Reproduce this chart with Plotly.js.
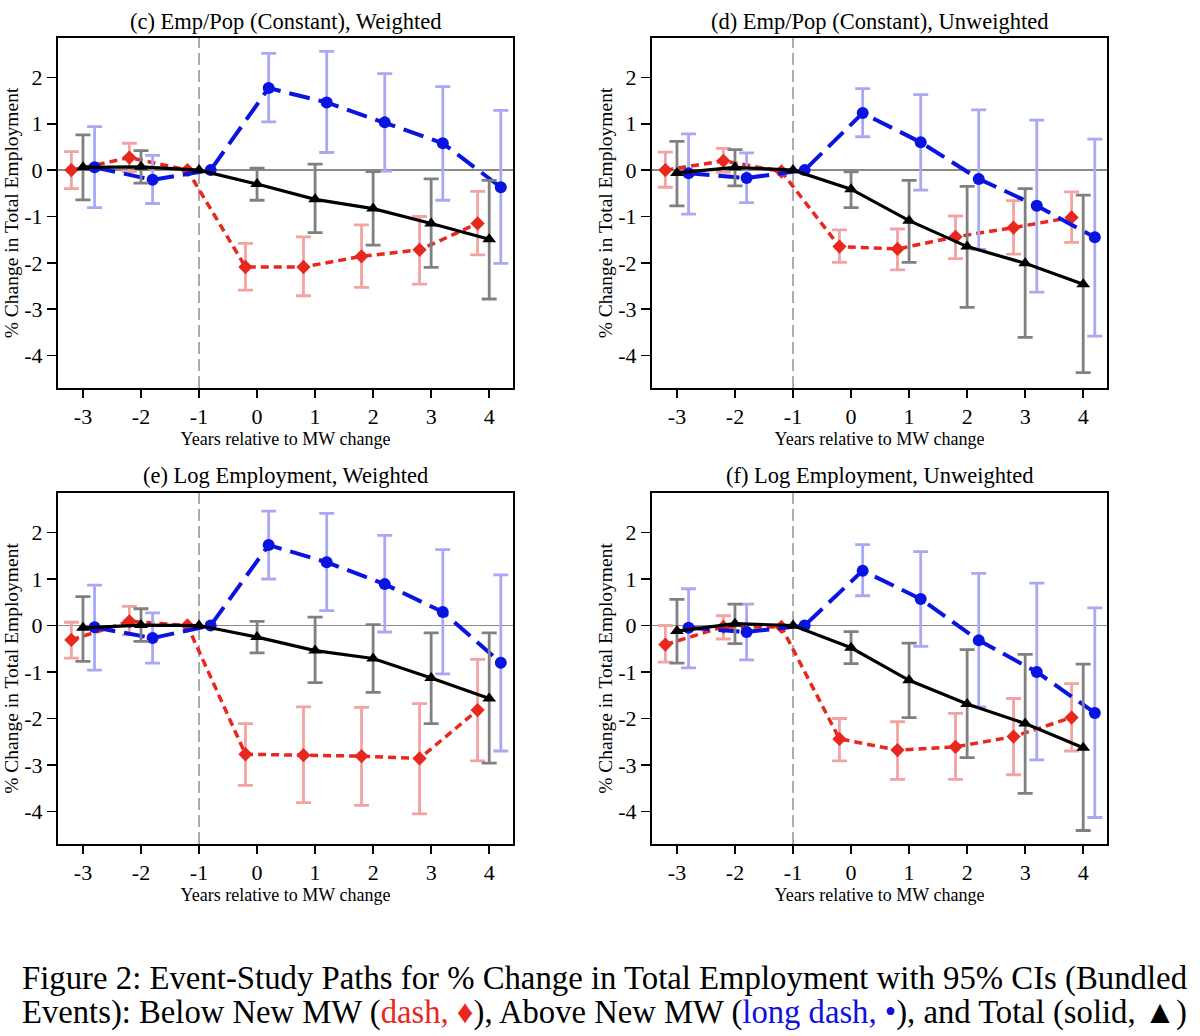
<!DOCTYPE html>
<html>
<head>
<meta charset="utf-8">
<script src="https://cdn.plot.ly/plotly-3.0.1.min.js"></script>
<style>
body { margin: 0; background: #fff; }
#chart { position: absolute; left: 0; top: 0; width: 1200px; height: 1036px; }
.caption-line {
    position: absolute; left: 22px; height: 34px; line-height: 34px;
    font-family: "Liberation Serif", serif; font-size: 33px; color: #000;
    white-space: nowrap; transform-origin: 0 50%;
}
</style>
</head>
<body>
<div id="chart"></div>
<div class="caption-line" id="cap1" style="top: 961px">Figure 2: Event-Study Paths for % Change in Total Employment with 95% CIs (Bundled</div>
<div class="caption-line" id="cap2" style="top: 995px">Events): Below New MW (<span style="color:#e8281f">dash, &#9830;</span>), Above New MW (<span style="color:#1010e0">long dash, &#8226;</span>), and Total (solid, &#9650;)</div>
<script>
var years = [-3, -2, -1, 0, 1, 2, 3, 4]
var x_tick_labels = ['-3', '-2', '-1', '0', '1', '2', '3', '4']
var y_ticks = [-4, -3, -2, -1, 0, 1, 2]
var y_tick_labels = ['-4', '-3', '-2', '-1', '0', '1', '2']

var titles = [
    '(c) Emp/Pop (Constant), Weighted',
    '(d) Emp/Pop (Constant), Unweighted',
    '(e) Log Employment, Weighted',
    '(f) Log Employment, Unweighted',
]

// (c)
var c_below    = [0, 0.27, 0, -2.09, -2.09, -1.86, -1.72, -1.15]
var c_below_hi = [0.40, 0.58, null, -1.58, -1.44, -1.18, -1.00, -0.46]
var c_below_lo = [-0.40, -0.03, null, -2.59, -2.71, -2.53, -2.46, -1.83]
var c_above    = [0.06, -0.21, 0, 1.77, 1.46, 1.03, 0.58, -0.37]
var c_above_hi = [0.94, 0.32, null, 2.52, 2.56, 2.08, 1.80, 1.29]
var c_above_lo = [-0.81, -0.72, null, 1.04, 0.38, -0.02, -0.65, -2.01]
var c_total    = [0.06, 0.07, 0, -0.30, -0.63, -0.83, -1.15, -1.49]
var c_total_hi = [0.76, 0.42, null, 0.04, 0.13, -0.03, -0.19, -0.22]
var c_total_lo = [-0.64, -0.28, null, -0.65, -1.35, -1.62, -2.10, -2.78]

// (d)
var d_below    = [0, 0.20, -0.03, -1.65, -1.70, -1.44, -1.24, -1.02]
var d_below_hi = [0.39, 0.47, null, -1.29, -1.27, -0.99, -0.66, -0.47]
var d_below_lo = [-0.37, -0.05, null, -1.99, -2.15, -1.91, -1.81, -1.56]
var d_above    = [-0.07, -0.17, 0, 1.23, 0.60, -0.19, -0.77, -1.45]
var d_above_hi = [0.78, 0.37, null, 1.76, 1.63, 1.30, 1.08, 0.67]
var d_above_lo = [-0.95, -0.70, null, 0.72, -0.43, -1.71, -2.63, -3.58]
var d_total    = [-0.06, 0.06, 0, -0.41, -1.09, -1.65, -2.01, -2.46]
var d_total_hi = [0.62, 0.44, null, -0.04, -0.22, -0.35, -0.40, -0.54]
var d_total_lo = [-0.77, -0.34, null, -0.81, -1.99, -2.96, -3.61, -4.37]

// (e)
var e_below    = [-0.31, 0.09, 0, -2.77, -2.79, -2.81, -2.86, -1.82]
var e_below_hi = [0.07, 0.41, null, -2.11, -1.75, -1.76, -1.68, -0.73]
var e_below_lo = [-0.70, -0.20, null, -3.44, -3.81, -3.87, -4.05, -2.91]
var e_above    = [-0.04, -0.27, 0, 1.73, 1.36, 0.89, 0.29, -0.80]
var e_above_hi = [0.87, 0.27, null, 2.46, 2.41, 1.94, 1.63, 1.09]
var e_above_lo = [-0.96, -0.81, null, 1.00, 0.32, -0.14, -1.04, -2.70]
var e_total    = [-0.05, 0.01, 0, -0.25, -0.54, -0.71, -1.13, -1.57]
var e_total_hi = [0.62, 0.36, null, 0.09, 0.18, 0.02, -0.16, -0.16]
var e_total_lo = [-0.77, -0.34, null, -0.59, -1.23, -1.44, -2.11, -2.96]

// (f)
var f_below    = [-0.41, -0.03, -0.03, -2.44, -2.68, -2.61, -2.39, -1.98]
var f_below_hi = [0.00, 0.21, null, -2.00, -2.07, -1.89, -1.57, -1.25]
var f_below_lo = [-0.79, -0.29, null, -2.91, -3.31, -3.31, -3.21, -2.70]
var f_above    = [-0.05, -0.14, 0, 1.18, 0.57, -0.32, -1.00, -1.88]
var f_above_hi = [0.79, 0.46, null, 1.74, 1.59, 1.12, 0.91, 0.38]
var f_above_lo = [-0.91, -0.74, null, 0.64, -0.45, -1.75, -2.89, -4.13]
var f_total    = [-0.12, 0.04, 0, -0.48, -1.18, -1.69, -2.11, -2.63]
var f_total_hi = [0.56, 0.46, null, -0.13, -0.38, -0.52, -0.62, -0.83]
var f_total_lo = [-0.81, -0.39, null, -0.82, -1.98, -2.84, -3.61, -4.41]

var styles = {
    below: {color: '#e8281f', ci: '#f4a3a3', symbol: 'diamond', size: 11, dash: '8px,5px', shift: -0.2, width: 3.5},
    above: {color: '#0a14e0', ci: '#a9a9f3', symbol: 'circle', size: 12, dash: '21px,9px', shift: 0.2, width: 4},
    total: {color: '#000000', ci: '#808080', symbol: 'triangle-up', size: 12, dash: 'solid', shift: 0, width: 3.2},
}

var panels = [
    {below: [c_below, c_below_hi, c_below_lo], above: [c_above, c_above_hi, c_above_lo], total: [c_total, c_total_hi, c_total_lo]},
    {below: [d_below, d_below_hi, d_below_lo], above: [d_above, d_above_hi, d_above_lo], total: [d_total, d_total_hi, d_total_lo]},
    {below: [e_below, e_below_hi, e_below_lo], above: [e_above, e_above_hi, e_above_lo], total: [e_total, e_total_hi, e_total_lo]},
    {below: [f_below, f_below_hi, f_below_lo], above: [f_above, f_above_hi, f_above_lo], total: [f_total, f_total_hi, f_total_lo]},
]

var W = 1200, H = 1036
var cols = [[58, 513], [652, 1107]]
var rows = [[38, 388], [493, 844]]

function axis_id(n) {
    return n == 1 ? '' : String(n)
}

function path_trace(series, s, n) {
    var values = series[0], hi = series[1], lo = series[2]
    return {
        type: 'scatter',
        mode: 'lines+markers',
        x: years.map(function (t) { return t + s.shift }),
        y: values,
        xaxis: 'x' + axis_id(n),
        yaxis: 'y' + axis_id(n),
        line: {color: s.color, width: s.width, dash: s.dash},
        marker: {color: s.color, symbol: s.symbol, size: s.size},
        error_y: {
            type: 'data',
            symmetric: false,
            array: hi.map(function (h, i) { return h == null ? NaN : h - values[i] }),
            arrayminus: lo.map(function (l, i) { return l == null ? NaN : values[i] - l }),
            color: s.ci,
            thickness: 2.8,
            width: 7.5,
        },
        showlegend: false,
    }
}

var traces = []
var layout = {
    width: W,
    height: H,
    margin: {t: 0, r: 0, b: 0, l: 0},
    paper_bgcolor: '#fff',
    plot_bgcolor: '#fff',
    font: {family: '"Liberation Serif", "Times New Roman", serif', color: '#000'},
    showlegend: false,
    shapes: [],
    annotations: [],
}

for (var i = 0; i < panels.length; i++) {
    var n = i + 1
    var col = cols[i % 2], row = rows[Math.floor(i / 2)]
    var p = panels[i]

    traces.push(path_trace(p.below, styles.below, n))
    traces.push(path_trace(p.above, styles.above, n))
    traces.push(path_trace(p.total, styles.total, n))

    layout['xaxis' + axis_id(n)] = {
        domain: [col[0] / W, col[1] / W],
        anchor: 'y' + axis_id(n),
        range: [-3.43, 4.41],
        tickvals: years,
        ticktext: x_tick_labels,
        ticks: 'outside',
        ticklen: 8,
        tickwidth: 1.5,
        tickcolor: '#000',
        tickfont: {size: 22},
        showline: true,
        mirror: true,
        linewidth: 2,
        linecolor: '#000',
        showgrid: false,
        zeroline: false,
        title: {text: 'Years relative to MW change', font: {size: 18}, standoff: 0},
    }
    layout['yaxis' + axis_id(n)] = {
        domain: [1 - row[1] / H, 1 - row[0] / H],
        anchor: 'x' + axis_id(n),
        range: [-4.7, 2.85],
        tickvals: y_ticks,
        ticktext: y_tick_labels,
        ticks: 'outside',
        ticklen: 9,
        tickwidth: 1.5,
        tickcolor: '#000',
        tickfont: {size: 22},
        showline: true,
        mirror: true,
        linewidth: 2,
        linecolor: '#000',
        showgrid: false,
        zeroline: true,
        zerolinecolor: '#8a8a8a',
        zerolinewidth: 1.5,
        title: {text: '% Change in Total Employment', font: {size: 19.5}, standoff: 0},
    }
    layout.shapes.push({
        type: 'line',
        xref: 'x' + axis_id(n),
        yref: 'y' + axis_id(n) + ' domain',
        x0: -1, x1: -1, y0: 0, y1: 1,
        line: {color: '#808080', width: 1.3, dash: '12px,5px'},
        layer: 'below',
    })
    layout.annotations.push({
        text: titles[i],
        xref: 'paper',
        yref: 'paper',
        x: (col[0] + col[1]) / 2 / W,
        y: 1 - (row[0] - 17) / H,
        xanchor: 'center',
        yanchor: 'middle',
        showarrow: false,
        font: {size: 22.5},
    })
}

Plotly.newPlot('chart', traces, layout, {displayModeBar: false, staticPlot: true})

// stretch each caption line to the full text width, like the justified original
function fit_caption(id) {
    var el = document.getElementById(id)
    el.style.transform = 'scaleX(' + (1165 / el.offsetWidth) + ')'
}
fit_caption('cap1')
fit_caption('cap2')
</script>
</body>
</html>
